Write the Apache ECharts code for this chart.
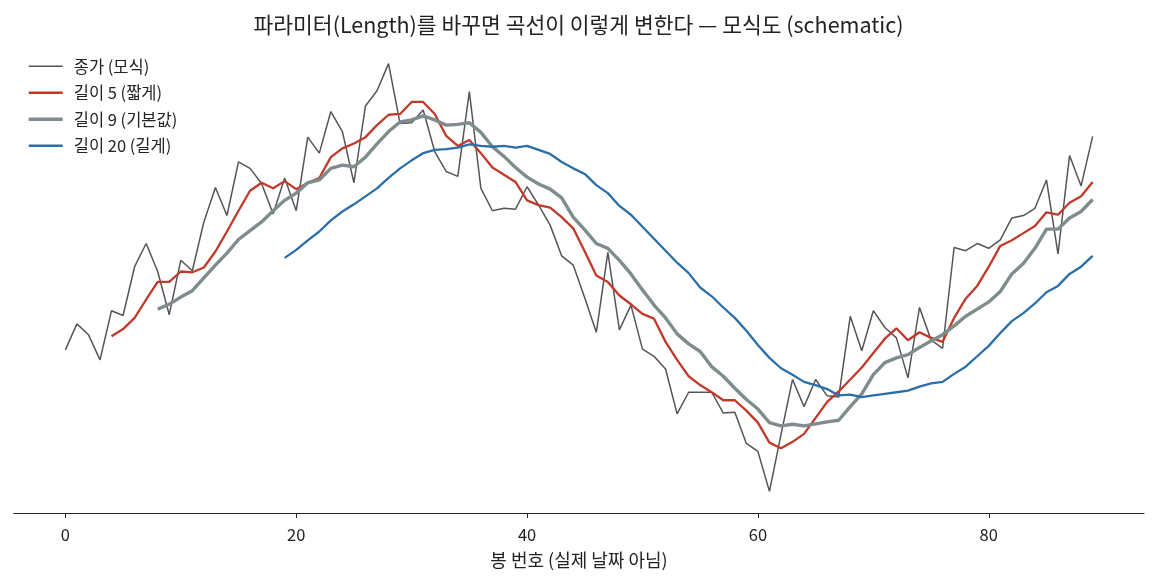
<!DOCTYPE html>
<html>
<head>
<meta charset="utf-8">
<script src="https://cdn.jsdelivr.net/npm/echarts@6/dist/echarts.min.js"></script>
<style>
  html, body { margin: 0; padding: 0; background: #fff; }
  #chart { width: 1157px; height: 584px; }
</style>
</head>
<body>
<div id="chart"></div>
<script>
// close prices (schematic), bar 0..89
var closes = [
  100.0, 103.25, 101.9, 98.75, 104.9, 104.3, 110.4, 113.3, 109.8, 104.4,
  111.2, 109.9, 116.0, 120.3, 116.8, 123.5, 122.7, 120.8, 117.0, 121.5,
  117.4, 126.6, 124.6, 129.8, 127.3, 120.9, 130.5, 132.4, 135.8, 128.3,
  128.4, 130.0, 124.8, 122.3, 121.7, 132.3, 120.2, 117.4, 117.7, 117.6,
  120.4, 118.1, 115.6, 111.75, 110.6, 106.5, 102.2, 112.2, 102.5, 105.6,
  100.1, 99.2, 97.6, 92.0, 94.7, 94.7, 94.7, 92.1, 92.2, 88.3,
  87.3, 82.3, 89.4, 96.3, 92.9, 96.3, 94.25, 94.1, 104.2, 99.9,
  104.9, 102.8, 101.5, 96.5, 105.3, 101.25, 100.2, 112.8, 112.4, 113.3,
  112.7, 113.75, 116.5, 116.8, 117.7, 121.25, 112.0, 124.3, 120.5, 126.7
];

// length 5 line, starts at bar 4
var len5Start = 4;
var len5 = [
  101.7, 102.6, 104.0, 106.3, 108.5, 108.5, 109.8, 109.7, 110.3, 112.3,
  114.8, 117.4, 119.9, 120.9, 120.2, 121.1, 120.1, 120.9, 121.5, 124.1,
  125.2, 125.8, 126.6, 128.1, 129.4, 129.5, 131.0, 131.0, 129.5, 126.75,
  125.5, 126.25, 124.6, 122.8, 121.9, 121.0, 118.7, 118.1, 117.8, 116.6,
  115.2, 112.3, 109.3, 108.5, 106.8, 105.7, 104.5, 103.9, 101.0, 98.75,
  96.7, 95.6, 94.7, 93.7, 93.7, 92.4, 90.9, 88.4, 87.7, 88.5,
  89.5, 91.5, 93.5, 94.8, 96.3, 97.8, 99.6, 101.4, 102.7, 101.2,
  102.2, 101.5, 101.0, 104.0, 106.4, 108.0, 110.4, 113.0, 113.7, 114.6,
  115.5, 117.2, 116.9, 118.4, 119.2, 121.0
];

// length 9 line, starts at bar 8
var len9Start = 8;
var len9 = [
  105.1, 105.7, 106.6, 107.4, 109.0, 110.6, 112.1, 113.8, 114.9, 116.0,
  117.4, 118.7, 119.6, 120.9, 121.25, 122.7, 123.1, 122.9, 124.1, 125.75,
  127.3, 128.5, 128.75, 129.25, 128.75, 128.1, 128.2, 128.4, 127.2, 125.4,
  124.2, 122.8, 121.6, 120.75, 120.1, 119.0, 116.6, 115.0, 113.3, 112.7,
  111.2, 109.5, 107.5, 105.6, 104.0, 102.0, 100.75, 99.8, 97.9, 96.7,
  95.2, 93.8, 92.6, 90.9, 90.5, 90.7, 90.5, 90.75, 91.0, 91.2,
  92.9, 94.5, 96.9, 98.4, 99.0, 99.4, 100.3, 101.1, 101.9, 103.0,
  104.2, 105.1, 106.0, 107.3, 109.5, 110.8, 112.7, 115.1, 115.1, 116.5,
  117.3, 118.8
];

// length 20 line, starts at bar 19
var len20Start = 19;
var len20 = [
  111.5, 112.5, 113.7, 114.8, 116.2, 117.3, 118.2, 119.2, 120.2, 121.5,
  122.7, 123.7, 124.6, 125.0, 125.1, 125.3, 125.7, 125.5, 125.4, 125.5,
  125.3, 125.5, 125.0, 124.5, 123.5, 122.7, 122.0, 120.6, 119.6, 118.0,
  116.9, 115.4, 113.9, 112.4, 110.9, 109.6, 107.8, 106.7, 105.3, 104.0,
  102.4, 100.6, 99.0, 97.7, 96.9, 96.0, 95.6, 95.1, 94.3, 94.4,
  94.1, 94.3, 94.5, 94.7, 94.9, 95.4, 95.8, 96.0, 97.0, 97.9,
  99.2, 100.5, 102.1, 103.6, 104.6, 105.8, 107.2, 108.0, 109.5, 110.4,
  111.75
];

var xTicks = [0, 20, 40, 60, 80];

var seriesNames = ['종가 (모식)', '길이 5 (짧게)', '길이 9 (기본값)', '길이 20 (길게)'];
var lineColors = ['#555555', '#c0392b', '#7f8c8d', '#2c6ea8'];
var lineWidths = [1.5, 2.3, 3.4, 2.3];

function toPairs(values, start) {
  return values.map(function (v, k) { return [start + k, v]; });
}

function lineSeries(i, values, start) {
  return {
    name: seriesNames[i], type: 'line', data: toPairs(values, start),
    symbol: 'none',
    lineStyle: { color: lineColors[i], width: lineWidths[i] },
    itemStyle: { color: lineColors[i] }
  };
}

var font = "'Noto Sans CJK KR', 'Noto Sans', sans-serif";
var chart = echarts.init(document.getElementById('chart'));

chart.setOption({
  animation: false,
  backgroundColor: '#ffffff',
  textStyle: { fontFamily: font },
  title: {
    text: '파라미터(Length)를 바꾸면 곡선이 이렇게 변한다 — 모식도 (schematic)',
    left: 'center',
    top: 9,
    textStyle: { fontFamily: font, fontSize: 21.5, fontWeight: 'normal', color: '#222' }
  },
  legend: {
    orient: 'vertical',
    left: 22,
    top: 53,
    itemWidth: 34,
    itemHeight: 12,
    itemGap: 10,
    itemStyle: { opacity: 0 },
    textStyle: { fontFamily: font, fontSize: 16.5, lineHeight: 16, color: '#222', padding: [0, 0, 0, 6] },
    data: seriesNames.map(function (n, i) {
      return { name: n, lineStyle: { width: lineWidths[i] } };
    })
  },
  grid: { left: 14, right: 13, top: 42, bottom: 71 },
  xAxis: {
    type: 'value',
    min: -4.45,
    max: 93.45,
    name: '봉 번호 (실제 날짜 아님)',
    nameLocation: 'middle',
    nameGap: 38,
    nameTextStyle: { fontFamily: font, fontSize: 18, color: '#222' },
    splitLine: { show: false },
    axisLine: { show: true, onZero: false, lineStyle: { color: '#222', width: 1.2 } },
    axisTick: { show: true, customValues: xTicks, length: 5, lineStyle: { color: '#222' } },
    axisLabel: { customValues: xTicks, fontFamily: font, fontSize: 16.5, color: '#222', margin: 13 }
  },
  yAxis: {
    type: 'value',
    min: 79.6,
    max: 138.5,
    show: false,
    splitLine: { show: false }
  },
  series: [
    lineSeries(0, closes, 0),
    lineSeries(1, len5, len5Start),
    lineSeries(2, len9, len9Start),
    lineSeries(3, len20, len20Start)
  ]
});
</script>
</body>
</html>
